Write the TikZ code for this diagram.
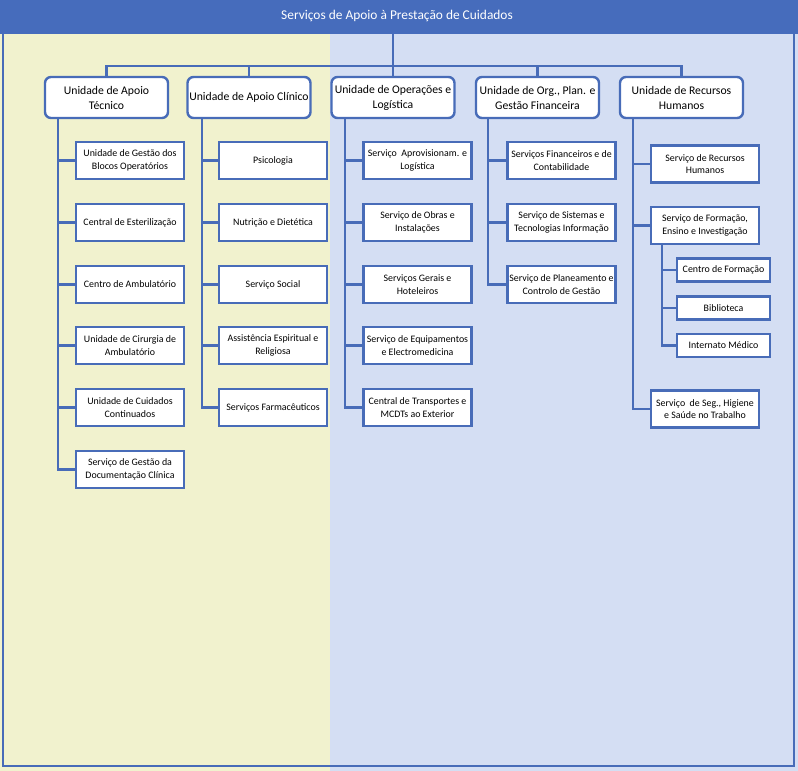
\documentclass[tikz,border=0pt]{standalone}
\usepackage{fontspec}
\setmainfont{Carlito}
\definecolor{hdr}{RGB}{70,108,188}
\definecolor{bc}{RGB}{72,108,184}
\definecolor{ylw}{RGB}{241,242,206}
\definecolor{blu}{RGB}{212,222,243}
\tikzset{
  topbox/.style={draw=bc, line width=2.4pt, rounded corners=6pt, fill=white,
    minimum width=123pt, minimum height=41pt, align=center, inner sep=1pt,
    font=\fontsize{11.7}{15}\selectfont},
  childbox/.style={draw=bc, line width=2.3pt, fill=white,
    minimum width=108pt, minimum height=37pt, align=center, inner sep=1pt,
    font=\fontsize{9.9}{12.7}\selectfont},
  subbox/.style={childbox, minimum width=93pt, minimum height=23pt},
  conn/.style={draw=bc, line width=2.4pt},
}
\begin{document}
\begin{tikzpicture}[x=1pt,y=-1pt]
\useasboundingbox (0,0) rectangle (798,771);
% backgrounds
\fill[ylw] (0,0) rectangle (330,771);
\fill[blu] (330,0) rectangle (798,771);
\draw[bc, line width=2.2pt] (3,30) rectangle (794,766);
\fill[hdr] (0,0) rectangle (798,34);
\node[text=white, font=\fontsize{13.4}{16}\selectfont] (title) at (397,16) {Serviços de Apoio à Prestação de Cuidados};
\coordinate (titlebot) at (397,34);
% top-level units
\node[topbox] (T1) at (106.5,97.5) {Unidade de Apoio\\Técnico};
\node[topbox] (T2) at (249,97.5) {Unidade de Apoio Clínico};
\node[topbox] (T3) at (393,97.5) {Unidade de Operações e\\Logística};
\node[topbox] (T4) at (537.5,97.5) {Unidade de Org., Plan. e\\Gestão Financeira};
\node[topbox] (T5) at (681.5,97.5) {Unidade de Recursos\\Humanos};
\coordinate (hub) at (393,66);
\draw[conn] (T3.north |- titlebot) -- (T3.north);
\draw[conn] (T1.north) |- (hub) -| (T5.north);
\draw[conn] (T2.north) -- (T2.north |- hub);
\draw[conn] (T4.north) -- (T4.north |- hub);
% vertical spine x positions
\coordinate (v1) at (58,0);
\coordinate (v2) at (202,0);
\coordinate (v3) at (345,0);
\coordinate (v4) at (488,0);
\coordinate (v5) at (633,0);
\coordinate (v6) at (662,0);
% column 1
\node[childbox] (A1) at (130,160.5) {Unidade de Gestão dos\\Blocos Operatórios};
\node[childbox] (A2) at (130,222.5) {Central de Esterilização};
\node[childbox] (A3) at (130,284.5) {Centro de Ambulatório};
\node[childbox] (A4) at (130,345.5) {Unidade de Cirurgia de\\Ambulatório};
\node[childbox] (A5) at (130,407.5) {Unidade de Cuidados\\Continuados};
\node[childbox] (A6) at (130,469.5) {Serviço de Gestão da\\Documentação Clínica};
% column 2
\node[childbox] (B1) at (273,160.5) {Psicologia};
\node[childbox] (B2) at (273,222.5) {Nutrição e Dietética};
\node[childbox] (B3) at (273,284.5) {Serviço Social};
\node[childbox] (B4) at (273,345.5) {Assistência Espiritual e\\Religiosa};
\node[childbox] (B5) at (273,407.5) {Serviços Farmacêuticos};
% column 3
\node[childbox] (C1) at (417.5,160.5) {Serviço\ \ Aprovisionam. e\\Logística};
\node[childbox] (C2) at (417.5,222.5) {Serviço de Obras e\\Instalações};
\node[childbox] (C3) at (417.5,284.5) {Serviços Gerais e\\Hoteleiros};
\node[childbox] (C4) at (417.5,345.5) {Serviço de Equipamentos\\e Electromedicina};
\node[childbox] (C5) at (417.5,407.5) {Central de Transportes e\\MCDTs ao Exterior};
% column 4
\node[childbox] (D1) at (561.5,160.5) {Serviços Financeiros e de\\Contabilidade};
\node[childbox] (D2) at (561.5,222.5) {Serviço de Sistemas e\\Tecnologias Informação};
\node[childbox] (D3) at (561.5,284.5) {Serviço de Planeamento e\\Controlo de Gestão};
% column 5
\node[childbox] (E1) at (705,164) {Serviço de Recursos\\Humanos};
\node[childbox] (E2) at (705,225.5) {Serviço de Formação,\\Ensino e Investigação};
\node[childbox] (E3) at (705,409) {Serviço\ \ de Seg., Higiene\\e Saúde no Trabalho};
\node[subbox] (F1) at (723.5,270) {Centro de Formação};
\node[subbox] (F2) at (723.5,308) {Biblioteca};
\node[subbox] (F3) at (723.5,345.5) {Internato Médico};
% spines
\draw[conn] (T1.south -| v1) |- (A6.west);
\foreach \n in {A1,A2,A3,A4,A5} \draw[conn] (\n.west) -- (\n.west -| v1);
\draw[conn] (T2.south -| v2) |- (B5.west);
\foreach \n in {B1,B2,B3,B4} \draw[conn] (\n.west) -- (\n.west -| v2);
\draw[conn] (T3.south -| v3) |- (C5.west);
\foreach \n in {C1,C2,C3,C4} \draw[conn] (\n.west) -- (\n.west -| v3);
\draw[conn] (T4.south -| v4) |- (D3.west);
\foreach \n in {D1,D2} \draw[conn] (\n.west) -- (\n.west -| v4);
\draw[conn] (T5.south -| v5) |- (E3.west);
\foreach \n in {E1,E2} \draw[conn] (\n.west) -- (\n.west -| v5);
\draw[conn] (E2.south -| v6) |- (F3.west);
\foreach \n in {F1,F2} \draw[conn] (\n.west) -- (\n.west -| v6);
\end{tikzpicture}
\end{document}
